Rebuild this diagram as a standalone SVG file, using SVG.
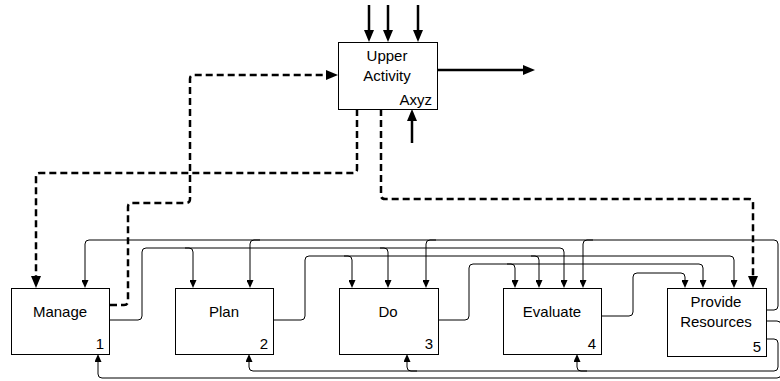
<svg xmlns="http://www.w3.org/2000/svg" width="780" height="381" viewBox="0 0 780 381">
  <defs>
    <style>
      .box { fill: #fff; stroke: #000; stroke-width: 1; }
      .lbl { font-family: "Liberation Sans", Arial, sans-serif; font-size: 15px; fill: #000; text-anchor: middle; }
      .num { font-family: "Liberation Sans", Arial, sans-serif; font-size: 15px; fill: #000; text-anchor: end; }
      .thick { fill: none; stroke: #000; stroke-width: 2.5; }
      .dash { fill: none; stroke: #000; stroke-width: 2.5; stroke-dasharray: 7 4; }
      .thin { fill: none; stroke: #000; stroke-width: 1; }
    </style>
    <marker id="big" viewBox="0 0 12 10" markerWidth="12" markerHeight="10" refX="6" refY="5" orient="auto" markerUnits="userSpaceOnUse">
      <path d="M0,0 L12,5 L0,10 z" fill="#000"/>
    </marker>
    <marker id="small" viewBox="0 0 8 7" markerWidth="8" markerHeight="7" refX="4" refY="3.5" orient="auto" markerUnits="userSpaceOnUse">
      <path d="M0,0 L8,3.5 L0,7 z" fill="#000"/>
    </marker>
  </defs>

  <!-- connectors -->
  <g id="connectors">
    <!-- boundary arrows of the upper activity -->
    <path class="thick" d="M369,5 V36" marker-end="url(#big)"/>
    <path class="thick" d="M388,5 V36" marker-end="url(#big)"/>
    <path class="thick" d="M418,5 V36" marker-end="url(#big)"/>
    <path class="thick" d="M437,70 H529" marker-end="url(#big)"/>
    <path class="thick" d="M412,143 V115" marker-end="url(#big)"/>

    <!-- dashed links between levels -->
    <path class="dash" d="M110,305 H124 Q128,305 128,301 V207 Q128,203 132,203 H186 Q190,203 190,199 V79 Q190,75 194,75 H332" marker-end="url(#big)"/>
    <path class="dash" d="M357,109 V169 Q357,173 353,173 H40 Q36,173 36,177 V282" marker-end="url(#big)"/>
    <path class="dash" d="M381,109 V195 Q381,199 385,199 H749 Q753,199 753,203 V282" marker-end="url(#big)"/>

    <!-- Provide Resources feeds all controls (top bus) -->
    <path class="thin" d="M766,310 H774 Q778,310 778,306 V244 Q778,240 774,240 H89 Q85,240 85,244 V284" marker-end="url(#small)"/>
    <path class="thin" d="M260,240 H254 Q250,240 250,244 V284" marker-end="url(#small)"/>
    <path class="thin" d="M436,240 H430 Q426,240 426,244 V284" marker-end="url(#small)"/>
    <path class="thin" d="M593,240 H587 Q583,240 583,244 V284" marker-end="url(#small)"/>

    <!-- Manage output -->
    <path class="thin" d="M109,320 H138 Q142,320 142,316 V252 Q142,248 146,248 H560 Q564,248 564,252 V284" marker-end="url(#small)"/>
    <path class="thin" d="M185,248 H189 Q193,248 193,252 V284" marker-end="url(#small)"/>
    <path class="thin" d="M380,248 H384 Q388,248 388,252 V284" marker-end="url(#small)"/>

    <!-- Plan output -->
    <path class="thin" d="M273,320 H301 Q305,320 305,316 V260 Q305,256 309,256 H730 Q734,256 734,260 V284" marker-end="url(#small)"/>
    <path class="thin" d="M344,256 H348 Q352,256 352,260 V284" marker-end="url(#small)"/>
    <path class="thin" d="M531,256 H535 Q539,256 539,260 V284" marker-end="url(#small)"/>

    <!-- Do output -->
    <path class="thin" d="M438,320 H465 Q469,320 469,316 V268 Q469,264 473,264 H699 Q703,264 703,268 V284" marker-end="url(#small)"/>
    <path class="thin" d="M507,264 H511 Q515,264 515,268 V284" marker-end="url(#small)"/>

    <!-- Evaluate output -->
    <path class="thin" d="M601,316 H629 Q633,316 633,312 V277 Q633,273 637,273 H681 Q685,273 685,277 V284" marker-end="url(#small)"/>

    <!-- Provide Resources feedback (bottom buses) -->
    <path class="thin" d="M766,339 H774 Q778,339 778,343 V367 Q778,371 774,371 H253 Q249,371 249,367 V358" marker-end="url(#small)"/>
    <path class="thin" d="M417,371 H411 Q407,371 407,367 V358" marker-end="url(#small)"/>
    <path class="thin" d="M587,371 H581 Q577,371 577,367 V358" marker-end="url(#small)"/>
    <path class="thin" d="M766,321 H777 Q781,321 781,325 V374 Q781,378 777,378 H102 Q98,378 98,374 V358" stroke="#555" stroke-width="1.8" marker-end="url(#small)"/>
  </g>

  <!-- activity boxes -->
  <g id="upper-activity">
    <rect class="box" x="338.5" y="42.5" width="99" height="67"/>
    <text class="lbl" x="387" y="61">Upper</text>
    <text class="lbl" x="387" y="81">Activity</text>
    <text class="num" x="432" y="105">Axyz</text>
  </g>
  <g id="manage">
    <rect class="box" x="11.5" y="288.5" width="98" height="66"/>
    <text class="lbl" x="60" y="317">Manage</text>
    <text class="num" x="104" y="349">1</text>
  </g>
  <g id="plan">
    <rect class="box" x="175.5" y="288.5" width="98" height="66"/>
    <text class="lbl" x="224" y="317">Plan</text>
    <text class="num" x="268" y="349">2</text>
  </g>
  <g id="do">
    <rect class="box" x="339.5" y="288.5" width="99" height="66"/>
    <text class="lbl" x="388" y="317">Do</text>
    <text class="num" x="433" y="349">3</text>
  </g>
  <g id="evaluate">
    <rect class="box" x="503.5" y="288.5" width="98" height="66"/>
    <text class="lbl" x="552" y="317">Evaluate</text>
    <text class="num" x="596" y="349">4</text>
  </g>
  <g id="provide-resources">
    <rect class="box" x="667.5" y="288.5" width="99" height="68"/>
    <text class="lbl" x="716" y="307">Provide</text>
    <text class="lbl" x="716" y="327">Resources</text>
    <text class="num" x="761" y="352">5</text>
  </g>
</svg>
